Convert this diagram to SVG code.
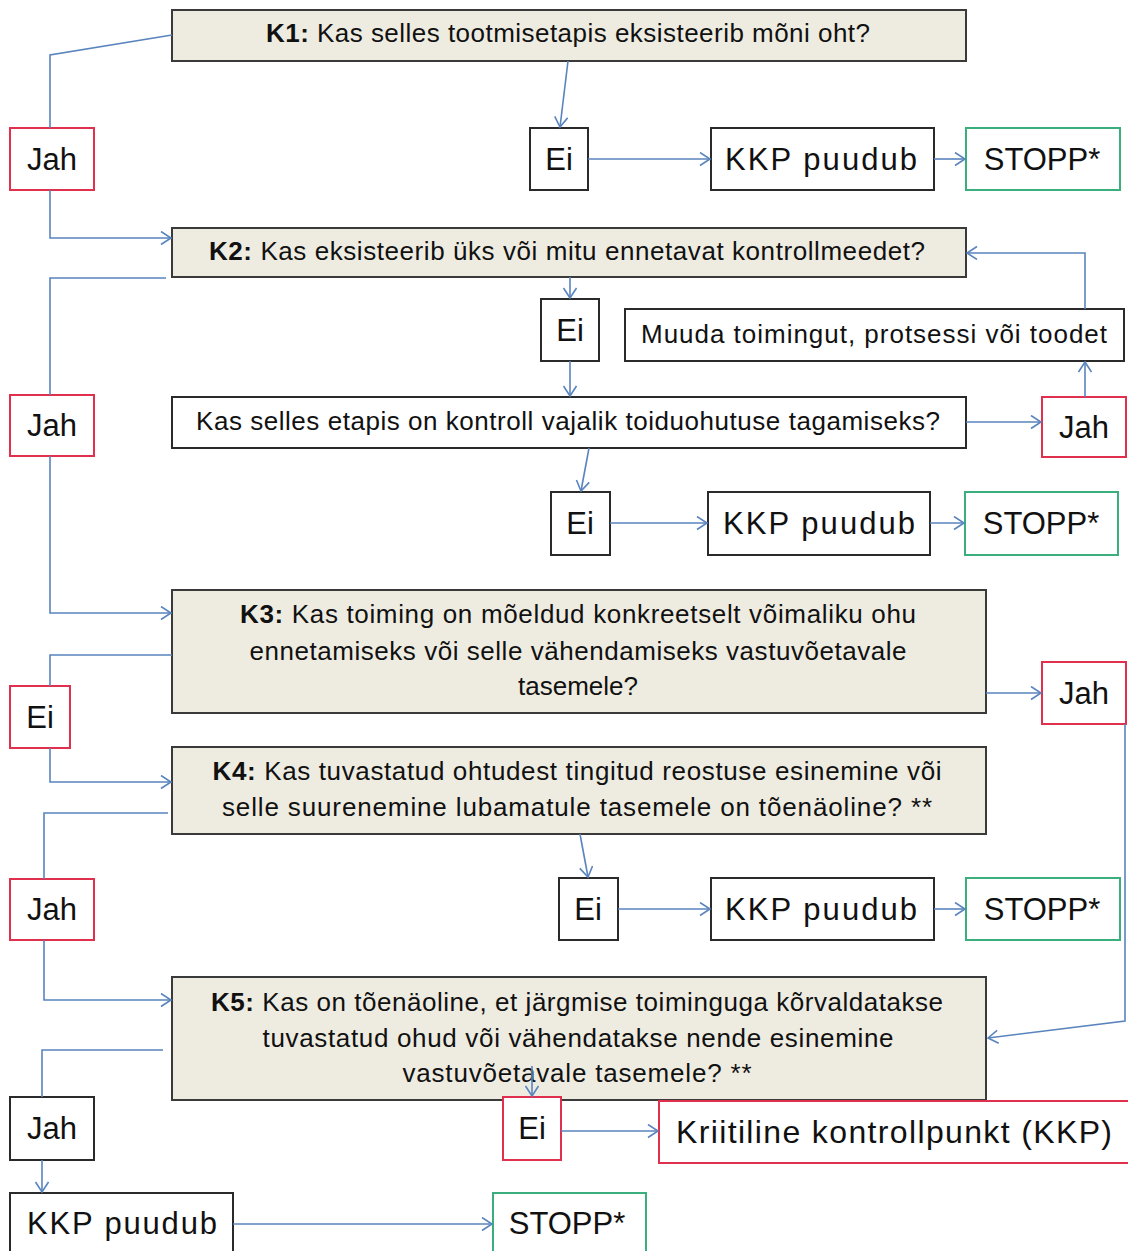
<svg xmlns="http://www.w3.org/2000/svg" width="1128" height="1251" viewBox="0 0 1128 1251">
<style>
text{font-family:"Liberation Sans",Arial,sans-serif;fill:#111;}
.q{fill:#EEECE1;stroke:#3a3a3a;stroke-width:2;}
.w{fill:#fff;stroke:#2a2a2a;stroke-width:2;}
.r{fill:#fff;stroke:#E0304E;stroke-width:2;}
.g{fill:#fff;stroke:#3AAE7C;stroke-width:2;}
.s{font-size:26px;text-anchor:middle;}
.b{font-size:31px;text-anchor:middle;}
.k{font-weight:bold;}
#connectors path{fill:none;stroke:#5A84BE;stroke-width:1.6;}
</style>
<defs>
<marker id="ah" markerUnits="userSpaceOnUse" markerWidth="14" markerHeight="16" refX="11" refY="7" orient="auto">
<path d="M1,0.5 L11,7 L1,13.5" fill="none" stroke="#5A84BE" stroke-width="1.6"/>
</marker>
</defs>
<rect width="1128" height="1251" fill="#fff"/>

<g id="k1"><rect class="q" x="172" y="10" width="794" height="51"/><text class="s" x="568" y="42" textLength="604"><tspan class="k">K1:</tspan> Kas selles tootmisetapis eksisteerib mõni oht?</text></g>
<g id="jah1"><rect class="r" x="10" y="128" width="84" height="62"/><text class="b" x="52" y="170">Jah</text></g>
<g id="ei1"><rect class="w" x="530" y="128" width="58" height="62"/><text class="b" x="559" y="170">Ei</text></g>
<g id="kkp1"><rect class="w" x="711" y="128" width="223" height="62"/><text class="b" x="821" y="170" textLength="192">KKP puudub</text></g>
<g id="stopp1"><rect class="g" x="966" y="128" width="154" height="62"/><text class="b" x="1042" y="170">STOPP*</text></g>

<g id="k2"><rect class="q" x="172" y="228" width="794" height="49"/><text class="s" x="567" y="260" textLength="716"><tspan class="k">K2:</tspan> Kas eksisteerib üks või mitu ennetavat kontrollmeedet?</text></g>
<g id="jah2"><rect class="r" x="10" y="395" width="84" height="61"/><text class="b" x="52" y="436">Jah</text></g>
<g id="ei2"><rect class="w" x="541" y="299" width="58" height="62"/><text class="b" x="570" y="341">Ei</text></g>
<g id="muuda"><rect class="w" x="625" y="309" width="499" height="52"/><text class="s" x="874" y="343" textLength="466">Muuda toimingut, protsessi või toodet</text></g>
<g id="kontroll"><rect class="w" x="172" y="397" width="794" height="51"/><text class="s" x="568" y="430" textLength="744">Kas selles etapis on kontroll vajalik toiduohutuse tagamiseks?</text></g>
<g id="jah3"><rect class="r" x="1042" y="397" width="84" height="60"/><text class="b" x="1084" y="438">Jah</text></g>
<g id="ei3"><rect class="w" x="551" y="492" width="59" height="63"/><text class="b" x="580" y="534">Ei</text></g>
<g id="kkp2"><rect class="w" x="708" y="492" width="222" height="63"/><text class="b" x="819" y="534" textLength="192">KKP puudub</text></g>
<g id="stopp2"><rect class="g" x="965" y="492" width="153" height="63"/><text class="b" x="1041" y="534">STOPP*</text></g>

<g id="k3"><rect class="q" x="172" y="590" width="814" height="123"/>
<text class="s" x="578" y="623" textLength="676"><tspan class="k">K3:</tspan> Kas toiming on mõeldud konkreetselt võimaliku ohu</text>
<text class="s" x="578" y="660" textLength="657">ennetamiseks või selle vähendamiseks vastuvõetavale</text>
<text class="s" x="578" y="695">tasemele?</text></g>
<g id="ei4"><rect class="r" x="10" y="686" width="60" height="62"/><text class="b" x="40" y="728">Ei</text></g>
<g id="jah4"><rect class="r" x="1042" y="662" width="84" height="62"/><text class="b" x="1084" y="704">Jah</text></g>

<g id="k4"><rect class="q" x="172" y="747" width="814" height="87"/>
<text class="s" x="577" y="780" textLength="729"><tspan class="k">K4:</tspan> Kas tuvastatud ohtudest tingitud reostuse esinemine või</text>
<text class="s" x="577" y="816" textLength="710">selle suurenemine lubamatule tasemele on tõenäoline? **</text></g>
<g id="jah5"><rect class="r" x="10" y="879" width="84" height="61"/><text class="b" x="52" y="920">Jah</text></g>
<g id="ei5"><rect class="w" x="559" y="878" width="59" height="62"/><text class="b" x="588" y="920">Ei</text></g>
<g id="kkp3"><rect class="w" x="711" y="878" width="223" height="62"/><text class="b" x="821" y="920" textLength="192">KKP puudub</text></g>
<g id="stopp3"><rect class="g" x="966" y="878" width="154" height="62"/><text class="b" x="1042" y="920">STOPP*</text></g>

<g id="k5"><rect class="q" x="172" y="977" width="814" height="123"/>
<text class="s" x="577" y="1011" textLength="732"><tspan class="k">K5:</tspan> Kas on tõenäoline, et järgmise toiminguga kõrvaldatakse</text>
<text class="s" x="578" y="1047" textLength="631">tuvastatud ohud või vähendatakse nende esinemine</text>
<text class="s" x="577" y="1082" textLength="349">vastuvõetavale tasemele? **</text></g>
<g id="jah6"><rect class="w" x="10" y="1097" width="84" height="63"/><text class="b" x="52" y="1139">Jah</text></g>
<g id="ei6"><rect class="r" x="503" y="1097" width="58" height="63"/><text class="b" x="532" y="1139">Ei</text></g>
<g id="kkp-kriitiline"><rect class="r" x="659" y="1101" width="480" height="62"/><text x="676" y="1143" font-size="32" textLength="436">Kriitiline kontrollpunkt (KKP)</text></g>
<g id="kkp4"><rect class="w" x="10" y="1193" width="223" height="64"/><text class="b" x="122" y="1234" textLength="190">KKP puudub</text></g>
<g id="stopp4"><rect class="g" x="493" y="1193" width="153" height="64"/><text class="b" x="567" y="1234">STOPP*</text></g>

<g id="connectors">
<path d="M172,35 L50,55 L50,128"/>
<path d="M50,190 L50,238 L171,238" marker-end="url(#ah)"/>
<path d="M568,61 L560,127" marker-end="url(#ah)"/>
<path d="M588,159 L710,159" marker-end="url(#ah)"/>
<path d="M934,159 L965,159" marker-end="url(#ah)"/>
<path d="M166,278 L50,278 L50,395"/>
<path d="M50,456 L50,613 L171,613" marker-end="url(#ah)"/>
<path d="M570,277 L570,298" marker-end="url(#ah)"/>
<path d="M570,361 L570,396" marker-end="url(#ah)"/>
<path d="M966,422 L1041,422" marker-end="url(#ah)"/>
<path d="M1085,397 L1085,362" marker-end="url(#ah)"/>
<path d="M1085,309 L1085,253 L967,253" marker-end="url(#ah)"/>
<path d="M589,448 L581,491" marker-end="url(#ah)"/>
<path d="M610,523 L707,523" marker-end="url(#ah)"/>
<path d="M930,523 L964,523" marker-end="url(#ah)"/>
<path d="M172,655 L50,655 L50,686"/>
<path d="M50,748 L50,782 L171,782" marker-end="url(#ah)"/>
<path d="M986,693 L1041,693" marker-end="url(#ah)"/>
<path d="M1125,724 L1125,1021 L988,1038" marker-end="url(#ah)"/>
<path d="M168,813 L44,813 L44,879"/>
<path d="M44,940 L44,1000 L171,1000" marker-end="url(#ah)"/>
<path d="M580,834 L588,877" marker-end="url(#ah)"/>
<path d="M618,909 L710,909" marker-end="url(#ah)"/>
<path d="M934,909 L965,909" marker-end="url(#ah)"/>
<path d="M163,1050 L42,1050 L42,1097"/>
<path d="M42,1160 L42,1192" marker-end="url(#ah)"/>
<path d="M233,1224 L492,1224" marker-end="url(#ah)"/>
<path d="M532,1066 L532,1096" marker-end="url(#ah)"/>
<path d="M561,1131 L658,1131" marker-end="url(#ah)"/>
</g>
</svg>
